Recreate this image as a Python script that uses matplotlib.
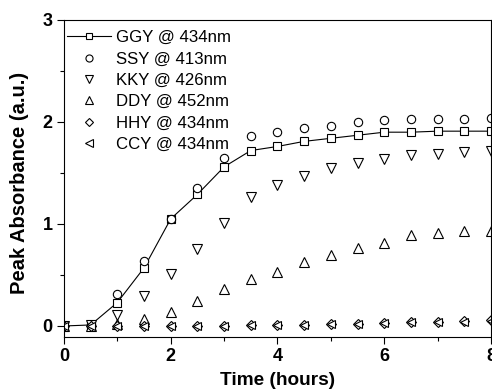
import matplotlib
matplotlib.use('Agg')
import matplotlib.pyplot as plt
import numpy as np

plt.rcParams['font.family'] = ['Liberation Sans', 'DejaVu Sans']

# time points (hours)
time = [0, 0.5, 1, 1.5, 2, 2.5, 3, 3.5, 4, 4.5, 5, 5.5, 6, 6.5, 7, 7.5, 8]

ggy = [0, 0.01, 0.23, 0.57, 1.05, 1.29, 1.56, 1.72, 1.76, 1.81, 1.84, 1.87, 1.90, 1.90, 1.91, 1.91, 1.91]
ssy = [0, 0.01, 0.31, 0.64, 1.05, 1.35, 1.65, 1.86, 1.90, 1.94, 1.96, 2.00, 2.02, 2.03, 2.03, 2.03, 2.04]
kky = [0, 0.01, 0.11, 0.29, 0.51, 0.75, 1.01, 1.26, 1.38, 1.47, 1.55, 1.60, 1.64, 1.68, 1.69, 1.71, 1.72]
ddy = [0, 0, 0.02, 0.065, 0.14, 0.245, 0.36, 0.46, 0.53, 0.63, 0.70, 0.76, 0.81, 0.89, 0.91, 0.93, 0.93]
hhy = [0, 0, 0, 0, 0, 0, 0, 0.01, 0.01, 0.01, 0.02, 0.02, 0.03, 0.04, 0.04, 0.05, 0.06]
ccy = [0, 0, 0, 0, 0, 0, 0, 0.01, 0.01, 0.01, 0.02, 0.02, 0.03, 0.04, 0.04, 0.04, 0.05]

labels = ['GGY @ 434nm', 'SSY @ 413nm', 'KKY @ 426nm', 'DDY @ 452nm', 'HHY @ 434nm', 'CCY @ 434nm']
markers = ['s', 'o', 'v', '^', 'D', '<']
sizes = [5.5, 6, 6.5, 6.5, 5, 6]
series = [ggy, ssy, kky, ddy, hhy, ccy]

fig = plt.figure(figsize=(4.92, 3.89), dpi=100)
ax = fig.add_axes([0.130, 0.1337, 0.868, 0.8149])

for i, (y, m, lab) in enumerate(zip(series, markers, labels)):
    ls = '-' if i == 0 else 'none'
    ax.plot(time, y, linestyle=ls, color='black', linewidth=0.8, marker=m,
            markersize=sizes[i], markerfacecolor='white', markeredgecolor='black',
            markeredgewidth=0.8, label=lab)

ax.set_xlim(0, 8)
ax.set_ylim(-0.108, 3)
ax.set_xticks([0, 2, 4, 6, 8])
ax.set_xticks([1, 3, 5, 7], minor=True)
ax.set_yticks([0, 1, 2, 3])
ax.set_yticks([0.5, 1.5, 2.5], minor=True)
ax.tick_params(which='major', direction='out', length=5, width=0.8, pad=3, labelsize=13)
ax.tick_params(which='minor', direction='out', length=3, width=0.8)
for lbl in ax.get_xticklabels() + ax.get_yticklabels():
    lbl.set_fontweight('bold')
for s in ax.spines.values():
    s.set_linewidth(0.8)

ax.set_xlabel('Time (hours)', fontsize=13.7, fontweight='bold', labelpad=5)
ax.set_ylabel('Peak Absorbance (a.u.)', fontsize=14.5, fontweight='bold')
ax.yaxis.set_label_coords(-0.083, 0.485)

leg = ax.legend(loc='upper left', bbox_to_anchor=(0.0, 0.979), frameon=False,
                fontsize=12.1, handlelength=2.6, handletextpad=0.3, labelspacing=0.38,
                borderaxespad=0.0, borderpad=0.2, markerscale=0.85)

fig.savefig('out.png', dpi=100)
